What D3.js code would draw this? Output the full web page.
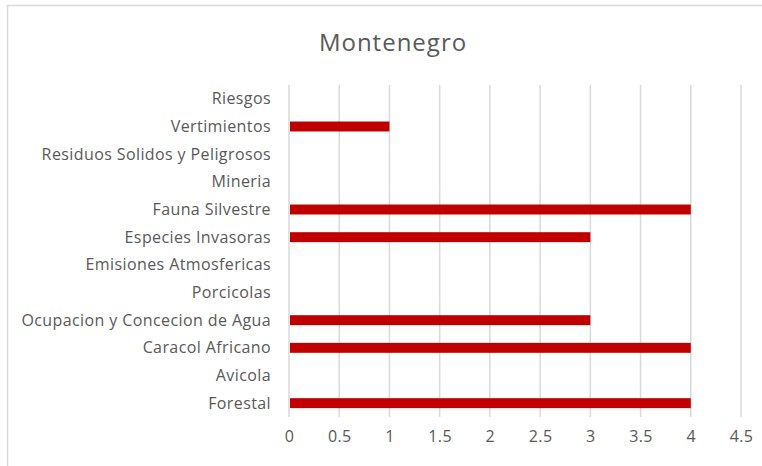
<!DOCTYPE html>
<html>
<head>
<meta charset="utf-8">
<script src="https://cdn.jsdelivr.net/npm/d3@7"></script>
<style>
  body { margin: 0; background: #fff; }
  text { font-family: "Open Sans", Lato, sans-serif; fill: #595959; }
</style>
</head>
<body>
<div id="chart"></div>
<script>
(function () {

  var categories = ["Riesgos", "Vertimientos", "Residuos Solidos y Peligrosos", "Mineria ",
    "Fauna Silvestre", "Especies Invasoras ", "Emisiones Atmosfericas", "Porcicolas",
    "Ocupacion y Concecion de Agua", "Caracol Africano", "Avicola", "Forestal"]
  var values = [0, 1, 0, 0, 4, 3, 0, 0, 3, 4, 0, 4]
  var xTicks = [0, 0.5, 1, 1.5, 2, 2.5, 3, 3.5, 4, 4.5]
  var title = "Montenegro"

  var width = 762, height = 466
  var margin = { top: 85, right: 21, bottom: 49, left: 289 }

  var svg = d3.select("#chart").append("svg")
      .attr("width", width)
      .attr("height", height)

  // outer chart border
  svg.append("rect")
    .attr("x", 7.5).attr("y", 5.5)
    .attr("width", 760).attr("height", 470)
    .attr("fill", "none")
    .attr("stroke", "#d9d9d9")
    .attr("stroke-width", 1.5)

  svg.append("text")
    .attr("x", 393).attr("y", 51)
    .attr("text-anchor", "middle")
    .style("font-size", "24px")
    .style("letter-spacing", "1px")
    .text(title)

  var xPositionScale = d3.scaleLinear()
    .domain([0, 4.5])
    .range([margin.left, width - margin.right])

  var yPositionScale = d3.scaleBand()
    .domain(categories)
    .range([margin.top, height - margin.bottom])
    .paddingInner(0.64)
    .paddingOuter(0.32)

  // gridlines
  svg.selectAll(".grid")
    .data(xTicks)
    .enter().append("line")
    .attr("class", "grid")
    .attr("x1", function(d) { return xPositionScale(d) })
    .attr("x2", function(d) { return xPositionScale(d) })
    .attr("y1", margin.top)
    .attr("y2", height - margin.bottom)
    .attr("stroke", "#d9d9d9")
    .attr("stroke-width", 1.5)

  svg.selectAll(".bar")
    .data(values)
    .enter().append("rect")
    .attr("class", "bar")
    .attr("x", xPositionScale(0) + 1)
    .attr("y", function(d, i) { return yPositionScale(categories[i]) })
    .attr("width", function(d) { return Math.max(0, xPositionScale(d) - xPositionScale(0) - 1) })
    .attr("height", yPositionScale.bandwidth())
    .attr("fill", "#c00000")

  // category labels
  svg.selectAll(".cat")
    .data(categories)
    .enter().append("text")
    .attr("class", "cat")
    .attr("x", 271)
    .attr("y", function(d) { return yPositionScale(d) + yPositionScale.bandwidth() / 2 })
    .attr("dy", "0.35em")
    .attr("text-anchor", "end")
    .style("font-size", "16px")
    .style("letter-spacing", "0.4px")
    .text(function(d) { return d })

  // x axis labels
  var xAxis = d3.axisBottom(xPositionScale)
    .tickValues(xTicks)
    .tickSize(0)
    .tickPadding(14)
    .tickFormat(d3.format("~g"))

  var gx = svg.append("g")
    .attr("transform", "translate(0," + (height - margin.bottom) + ")")
    .call(xAxis)
  gx.select(".domain").remove()
  gx.selectAll("text")
    .style("font-size", "16px")
    .style("letter-spacing", "0.4px")
    .attr("fill", "#595959")
    .style("font-family", "'Open Sans', Lato, sans-serif")

})()
</script>
</body>
</html>
